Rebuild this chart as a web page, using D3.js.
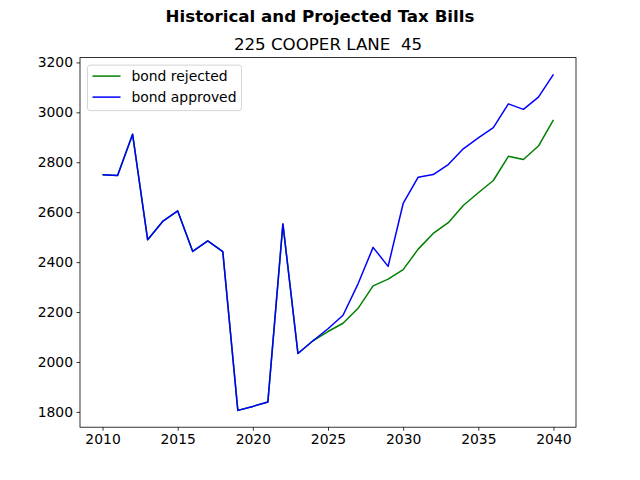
<!DOCTYPE html>
<html>
<head>
<meta charset="utf-8">
<script src="https://cdn.jsdelivr.net/npm/d3@7"></script>
<style>
  body { margin: 0; background: #fff; }
  svg { font-family: "DejaVu Sans", sans-serif; }
</style>
</head>
<body>
<svg id="chart"></svg>
<script>
// data
const years = d3.range(2010, 2041);
const bondRejected = [2750, 2747, 2912, 2490, 2563, 2605, 2443, 2485, 2442, 1806, 1822, 1840, 2553, 2034,
                      2085, 2122, 2155, 2215, 2305, 2332, 2370, 2452, 2515, 2558, 2627, 2678, 2727, 2824, 2811, 2865, 2970];
const bondApproved = [2750, 2747, 2912, 2490, 2563, 2605, 2443, 2485, 2442, 1806, 1822, 1840, 2553, 2034,
                      2085, 2133, 2187, 2313, 2459, 2383, 2635, 2740, 2751, 2791, 2854, 2898, 2939, 3034, 3012, 3061, 3152];
const yTicks = [1800, 2000, 2200, 2400, 2600, 2800, 3000, 3200];
const xTicks = [2010, 2015, 2020, 2025, 2030, 2035, 2040];

const series = [
    {name: "bond rejected", values: bondRejected, color: "green"},
    {name: "bond approved", values: bondApproved, color: "blue"}
];

const width = 640, height = 480;
const margin = {left: 80, right: 64, top: 57.6, bottom: 52.8};

const svg = d3.select("#chart").attr("width", width).attr("height", height);

const allVals = bondRejected.concat(bondApproved);
const yMin = d3.min(allVals), yMax = d3.max(allVals);
const yPad = (yMax - yMin) * 0.05;
const xPad = (2040 - 2010) * 0.05;

const x = d3.scaleLinear()
            .domain([2010 - xPad, 2040 + xPad])
            .range([margin.left, width - margin.right]);
const y = d3.scaleLinear()
            .domain([yMin - yPad, yMax + yPad])
            .range([height - margin.bottom, margin.top]);

// titles
svg.append("text")
   .attr("x", width / 2).attr("y", 22)
   .attr("text-anchor", "middle")
   .style("font-size", "16.67px").style("font-weight", "bold")
   .text("Historical and Projected Tax Bills");
svg.append("text")
   .attr("x", (margin.left + width - margin.right) / 2).attr("y", 50)
   .attr("text-anchor", "middle")
   .style("font-size", "16.67px")
   .style("white-space", "pre")
   .text("225 COOPER LANE  45");

// axes
const xAxis = svg.append("g")
   .attr("transform", `translate(0,${height - margin.bottom})`)
   .call(d3.axisBottom(x).tickValues(xTicks).tickFormat(d3.format("d")).tickSize(3.5).tickPadding(3.5));
const yAxis = svg.append("g")
   .attr("transform", `translate(${margin.left},0)`)
   .call(d3.axisLeft(y).tickValues(yTicks).tickFormat(d3.format("d")).tickSize(3.5).tickPadding(3.5));

[xAxis, yAxis].forEach(a => {
    a.select(".domain").remove();
    a.selectAll("text").style("font-size", "13.9px").style("font-family", "DejaVu Sans").attr("fill", "#000");
    a.selectAll("line").attr("stroke", "#000").attr("stroke-width", 0.8);
});

const line = d3.line()
               .x((d, i) => x(years[i]))
               .y(d => y(d));

svg.append("g")
   .selectAll("path")
   .data(series)
   .join("path")
   .attr("fill", "none")
   .attr("stroke", d => d.color)
   .attr("stroke-width", 1.5)
   .attr("stroke-linejoin", "round")
   .attr("d", d => line(d.values));

// frame
svg.append("rect")
   .attr("x", margin.left).attr("y", margin.top)
   .attr("width", width - margin.left - margin.right)
   .attr("height", height - margin.top - margin.bottom)
   .attr("fill", "none")
   .attr("stroke", "#000")
   .attr("stroke-width", 0.8);

// legend
const legend = svg.append("g").attr("transform", `translate(${margin.left + 7.5},${margin.top + 7.5})`);
legend.append("rect")
   .attr("width", 154).attr("height", 45.5)
   .attr("rx", 2.5)
   .attr("fill", "#fff").attr("fill-opacity", 0.8)
   .attr("stroke", "#ccc").attr("stroke-width", 0.8);

const entries = legend.selectAll("g")
   .data(series)
   .join("g")
   .attr("transform", (d, i) => `translate(0,${11 + i * 21})`);
entries.append("line")
   .attr("x1", 5).attr("x2", 33)
   .attr("stroke", d => d.color).attr("stroke-width", 1.5);
entries.append("text")
   .attr("x", 44).attr("y", 4.8)
   .style("font-size", "13.9px")
   .text(d => d.name);
</script>
</body>
</html>
